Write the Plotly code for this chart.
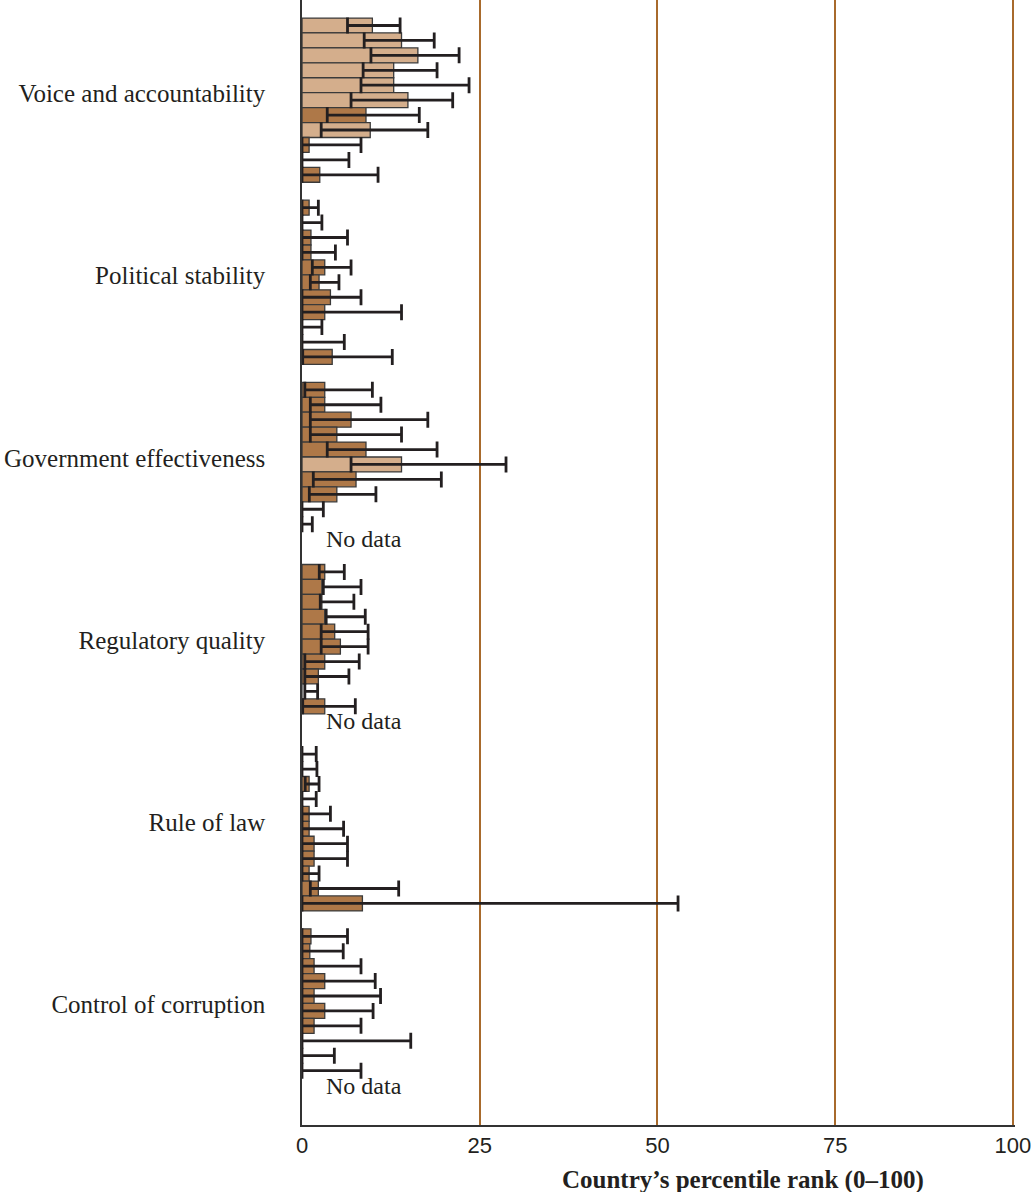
import plotly.graph_objects as go

indicators = ["Voice and accountability", "Political stability", "Government effectiveness",
              "Regulatory quality", "Rule of law", "Control of corruption"]

# Each indicator: 11 observations, top to bottom. None = no data.
voice_val = [9.9, 14.0, 16.3, 12.9, 12.9, 14.9, 9.0, 9.6, 1.0, 0.0, 2.5]
voice_lo = [6.4, 8.75, 9.7, 8.6, 8.3, 6.9, 3.55, 2.7, 0.0, 0.0, 0.0]
voice_hi = [13.8, 18.6, 22.1, 19.0, 23.5, 21.2, 16.5, 17.7, 8.3, 6.6, 10.7]
voice_shade = ["L", "L", "L", "L", "L", "L", "D", "L", "D", "D", "D"]

pol_val = [1.0, 0.0, 1.26, 1.26, 3.2, 2.4, 4.0, 3.2, 0.0, 0.0, 4.25]
pol_lo = [0.0, 0.0, 0.0, 0.0, 1.45, 1.17, 0.0, 0.0, 0.0, 0.0, 0.1]
pol_hi = [2.3, 2.8, 6.4, 4.7, 6.9, 5.2, 8.3, 14.0, 2.8, 5.95, 12.7]
pol_shade = ["D"] * 11

gov_val = [3.2, 3.2, 6.9, 4.9, 9.0, 14.0, 7.6, 4.9, 0.0, 0.0, None]
gov_lo = [0.4, 1.17, 1.17, 1.17, 3.55, 6.9, 1.59, 1.03, 0.0, 0.0, None]
gov_hi = [9.9, 11.1, 17.7, 14.0, 19.0, 28.7, 19.6, 10.4, 3.0, 1.45, None]
gov_shade = ["D", "D", "D", "D", "D", "L", "D", "D", "D", "D", "D"]

reg_val = [3.2, 2.8, 2.8, 3.2, 4.6, 5.4, 3.2, 2.3, 0.0, 3.2, None]
reg_lo = [2.43, 3.0, 2.57, 3.4, 2.7, 2.7, 0.4, 0.4, 0.4, 0.1, None]
reg_hi = [5.95, 8.3, 7.3, 8.9, 9.3, 9.3, 8.05, 6.6, 2.2, 7.5, None]
reg_shade = ["D"] * 11

law_val = [0.0, 0.0, 1.0, 0.0, 1.0, 1.0, 1.7, 1.7, 1.0, 2.3, 8.5]
law_lo = [0.0, 0.0, 0.45, 0.0, 0.0, 0.0, 0.0, 0.0, 0.0, 1.17, 0.0]
law_hi = [2.0, 2.1, 2.4, 2.0, 4.0, 5.85, 6.4, 6.4, 2.4, 13.6, 52.9]
law_shade = ["D"] * 11

cor_val = [1.26, 1.1, 1.7, 3.2, 1.7, 3.2, 1.7, 0.0, 0.0, 0.0, None]
cor_lo = [0.0, 0.0, 0.0, 0.0, 0.0, 0.0, 0.0, 0.0, 0.0, 0.0, None]
cor_hi = [6.4, 5.8, 8.3, 10.3, 11.05, 10.0, 8.3, 15.3, 4.55, 8.3, None]
cor_shade = ["D"] * 11

x_ticks = [0, 25, 50, 75, 100]

groups = [
    (voice_val, voice_lo, voice_hi, voice_shade),
    (pol_val, pol_lo, pol_hi, pol_shade),
    (gov_val, gov_lo, gov_hi, gov_shade),
    (reg_val, reg_lo, reg_hi, reg_shade),
    (law_val, law_lo, law_hi, law_shade),
    (cor_val, cor_lo, cor_hi, cor_shade),
]

LIGHT = "#d4ae8c"
DARK = "#ae7848"
INK = "#231f20"
GRID = "#a86a2c"
STRIDE = 12.2

ys, xs, plus, minus, colors = [], [], [], [], []
tickvals = []
annotations = []
for g, (vals, los, his, shades) in enumerate(groups):
    n = len(vals)
    tickvals.append(g * STRIDE + (n - 1) / 2 - 0.45)
    for s in range(n):
        pos = g * STRIDE + s
        v = vals[s]
        ys.append(pos)
        xs.append(v)
        colors.append(LIGHT if shades[s] == "L" else DARK)
        if v is None:
            plus.append(None)
            minus.append(None)
            annotations.append(dict(x=0, y=pos, xref="x", yref="y", text="No data",
                                    showarrow=False, xanchor="left", xshift=22,
                                    font=dict(family="Liberation Serif", size=24, color=INK)))
        else:
            plus.append(his[s] - v)
            minus.append(v - los[s])

fig = go.Figure()
fig.add_trace(go.Bar(
    x=xs, y=ys, orientation="h", width=1.0,
    marker=dict(color=colors, line=dict(color="#3a3a3a", width=1.3)),
    error_x=dict(type="data", symmetric=False, array=plus, arrayminus=minus,
                 color=INK, thickness=2.8, width=8),
    hoverinfo="x",
))

annotations.append(dict(
    x=0.619, y=0, xref="paper", yref="paper", yanchor="top", yshift=-39,
    text="<b>Country’s percentile rank (0–100)</b>", showarrow=False,
    font=dict(family="Liberation Serif", size=25, color=INK)))

fig.update_layout(
    width=1035, height=1192,
    margin=dict(l=302, r=20, t=0, b=67),
    paper_bgcolor="white", plot_bgcolor="white",
    showlegend=False,
    annotations=annotations,
    xaxis=dict(range=[0, 100.3], tickvals=x_ticks, ticktext=[str(t) for t in x_ticks],
               showgrid=True, gridcolor=GRID, gridwidth=1.5, zeroline=False,
               showline=True, linecolor="#333333", linewidth=1.5, ticks="",
               tickfont=dict(family="Liberation Sans Narrow, Liberation Sans", size=22, color=INK)),
    yaxis=dict(range=[73.64, -1.708], tickvals=tickvals, ticktext=indicators,
               showgrid=False, zeroline=False, showline=True, linecolor="#333333",
               linewidth=1.5, ticks="", ticklabelstandoff=30,
               tickfont=dict(family="Liberation Serif", size=25, color=INK)),
)

fig.write_html("out.html", config={"displayModeBar": False},
               post_script="document.body.style.margin='0';")
